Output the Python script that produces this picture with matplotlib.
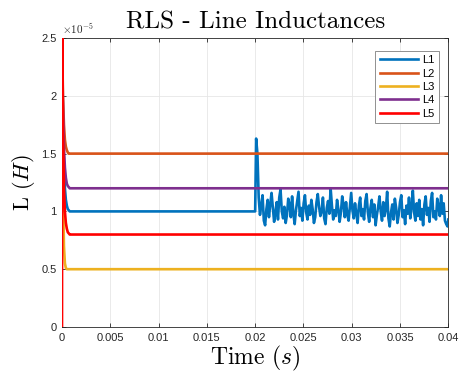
import numpy as np
import matplotlib
matplotlib.use("Agg")
import matplotlib.pyplot as plt
from matplotlib.ticker import FuncFormatter, MultipleLocator

# RLS estimates of the five line inductances (values in units of 1e-5 H)
t_start = [0, 0.0001, 0.0002, 0.0003, 0.0004, 0.0005, 0.0006, 0.0007, 0.0008, 0.0009, 0.001]
L1_start = [2.5, 1.80, 1.40, 1.20, 1.10, 1.05, 1.02, 1.01, 1.00, 1.00, 1.00]
L2_start = [2.5, 2.00, 1.75, 1.62, 1.56, 1.53, 1.51, 1.50, 1.50, 1.50, 1.50]
L3_start = [2.5, 1.20, 0.70, 0.55, 0.51, 0.50, 0.50, 0.50, 0.50, 0.50, 0.50]
L4_start = [2.5, 1.90, 1.55, 1.38, 1.29, 1.24, 1.22, 1.21, 1.20, 1.20, 1.20]

t_L5 = [0, 0.00002, 0.0001, 0.0002, 0.0003, 0.0004, 0.0005, 0.0006, 0.0007, 0.0008, 0.0009, 0.001]
L5_start = [0, 2.5, 1.70, 1.20, 1.00, 0.90, 0.85, 0.82, 0.81, 0.80, 0.80, 0.80]

t_end = 0.04
t_change = 0.02

# L1 after the parameter change at t = 0.02 s
L1_noisy = [
    1.63, 1.50, 1.12, 0.97, 1.05, 1.14, 0.92, 0.88, 1.02, 1.10,
    0.95, 1.06, 1.16, 1.03, 0.91, 0.99, 1.08, 0.93, 1.12, 1.19,
    1.00, 0.94, 1.04, 0.90, 0.97, 1.11, 1.06, 0.95, 1.13, 0.98,
    0.89, 1.01, 1.09, 1.17, 0.96, 1.03, 0.92, 1.07, 1.14, 0.99,
    0.93, 1.05, 0.97, 1.10, 1.02, 0.90, 0.95, 1.08, 1.15, 1.04,
    0.96, 1.00, 1.12, 0.94, 0.89, 1.03, 1.09, 0.98, 1.20, 1.05,
    0.93, 1.01, 0.96, 1.10, 1.02, 0.91, 0.99, 1.13, 1.06, 0.95,
    1.08, 0.97, 0.92, 1.04, 1.16, 1.01, 0.94, 1.07, 0.98, 0.90,
    1.05, 1.12, 0.96, 1.02, 0.93, 1.09, 1.15, 0.99, 0.91, 1.03,
    1.10, 0.95, 1.06, 0.88, 0.97, 1.04, 1.13, 1.00, 0.92, 1.08,
    0.96, 1.02, 1.17, 0.94, 0.87, 0.99, 1.06, 0.93, 1.11, 1.03,
    0.90, 0.97, 1.08, 1.14, 0.95, 1.01, 0.89, 1.05, 0.98, 1.12,
    0.94, 1.04, 1.18, 0.99, 0.92, 1.07, 0.96, 1.10, 0.93, 1.02,
    0.88, 1.06, 1.13, 0.97, 1.03, 0.91, 1.09, 1.16, 0.95, 1.00,
    0.93, 1.11, 1.04, 0.96, 1.14, 0.98, 1.07, 0.92, 0.89, 0.87,
    0.93,
]
dt_noisy = 0.000133
t_noisy = list(0.0201 + np.arange(len(L1_noisy) - 1) * dt_noisy) + [t_end]

scale = 1e-5
t1 = np.array(t_start + [t_change] + t_noisy)
L1 = np.array(L1_start + [1.00] + L1_noisy) * scale
t2 = np.array(t_start + [t_end])
L2 = np.array(L2_start + [1.50]) * scale
L3 = np.array(L3_start + [0.50]) * scale
L4 = np.array(L4_start + [1.20]) * scale
t5 = np.array(t_L5 + [t_end])
L5 = np.array(L5_start + [0.80]) * scale

colors = ["#0072BD", "#D95319", "#EDB120", "#7E2F8E", "#FF0000"]
labels = ["L1", "L2", "L3", "L4", "L5"]

plt.rcParams["mathtext.fontset"] = "cm"
tick_font = "Liberation Sans"

fig = plt.figure(figsize=(4.61, 3.79), dpi=100)
ax = fig.add_axes([0.1345, 0.1372, 0.838, 0.7625])

series = [(t1, L1), (t2, L2), (t2, L3), (t2, L4), (t5, L5)]
for (t, L), c, lab in zip(series, colors, labels):
    ax.plot(t, L, color=c, lw=1.9, label=lab, zorder=3)

ax.set_xlim(0, 0.04)
ax.set_ylim(0, 2.5e-5)
ax.xaxis.set_major_locator(MultipleLocator(0.005))
ax.yaxis.set_major_locator(MultipleLocator(0.5e-5))
ax.xaxis.set_major_formatter(FuncFormatter(lambda v, p: f"{v:g}"))
ax.yaxis.set_major_formatter(FuncFormatter(lambda v, p: f"{v / scale:g}"))
ax.tick_params(direction="in", top=True, right=True, length=3, width=0.6,
               labelsize=8, colors="#262626", pad=4)
for lab in ax.get_xticklabels() + ax.get_yticklabels():
    lab.set_fontfamily(tick_font)
ax.grid(True, color="#e6e6e6", lw=0.6)
ax.set_axisbelow(True)
for s in ax.spines.values():
    s.set_color("#262626")
    s.set_linewidth(0.6)

ax.text(0.0, 1.008, r"$\times 10^{-5}$", transform=ax.transAxes, fontsize=8,
        color="#262626", ha="left", va="bottom")

ax.set_title("RLS - Line Inductances", fontsize=18, family="cmr10", pad=7)
ax.set_xlabel(r"Time $(s)$", fontsize=17, family="cmr10", labelpad=1)
ax.set_ylabel(r"L $(H)$", fontsize=16, family="cmr10", labelpad=3)

leg = ax.legend(loc="upper right", bbox_to_anchor=(0.99, 0.975),
                prop={"family": tick_font, "size": 8}, handlelength=3.4,
                handletextpad=0.4, labelspacing=0.3, borderpad=0.4,
                fancybox=False, framealpha=1, edgecolor="#7f7f7f")
leg.get_frame().set_linewidth(0.6)
leg.set_zorder(5)

fig.savefig("out.png", dpi=100)
